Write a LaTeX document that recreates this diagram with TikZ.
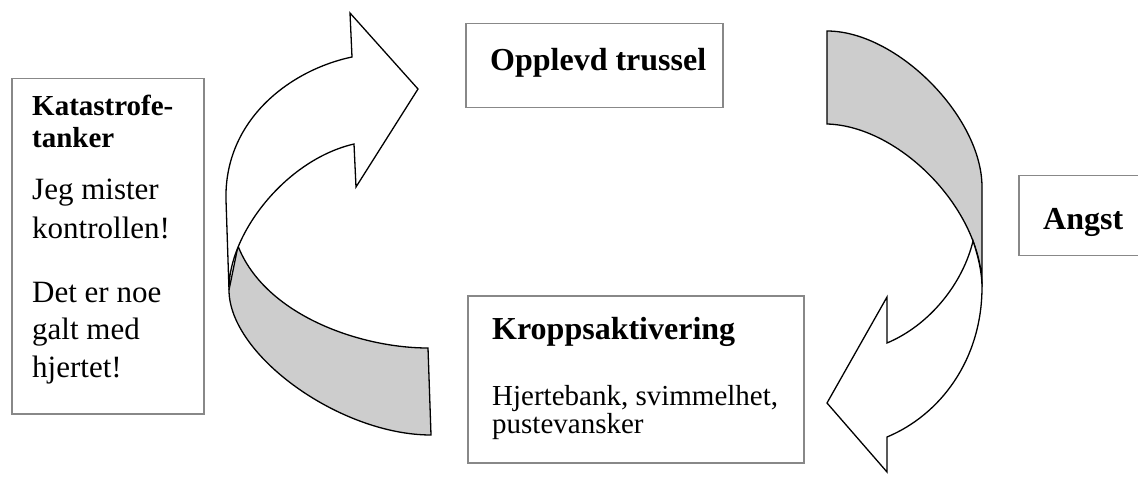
\documentclass[tikz,border=0pt]{standalone}
\usepackage{fontspec}
\setmainfont{Liberation Serif}
\definecolor{boxgray}{HTML}{888888}
\definecolor{bandgray}{HTML}{CDCDCD}
\begin{document}
\begin{tikzpicture}[x=1pt,y=-1pt,
  box/.style={draw=boxgray, line width=1.5pt, fill=white, inner sep=0pt, anchor=north west},
  txt/.style={anchor=base west, inner sep=0pt},
  hdA/.style={txt, font=\bfseries\fontsize{32}{36}\selectfont},
  hdB/.style={txt, font=\bfseries\fontsize{29}{31}\selectfont},
  bodyA/.style={txt, font=\fontsize{31}{37}\selectfont},
  bodyB/.style={txt, font=\fontsize{29}{28}\selectfont},
  back/.style={draw=black, line width=1.3pt, fill=bandgray, line join=miter},
  front/.style={draw=black, line width=1.3pt, fill=white, line join=miter}]
\clip (0,0) rectangle (1138,481);
\fill[white] (0,0) rectangle (1138,481);

% boxes
\node[box, minimum width=192pt, minimum height=335pt] (katbox) at (11,78) {};
\node[box, minimum width=257pt, minimum height=84pt] (truss) at (465,23) {};
\node[box, minimum width=336pt, minimum height=167pt] (kropp) at (467,295) {};
\node[box, minimum width=140pt, minimum height=80pt] (angst) at (1018,175) {};

% texts
\node[hdB] (k1) at (32,116) {Katastrofe-};
\node[hdB] (k2) at (32,148) {tanker};
\node[bodyA] (k3) at (32,200) {Jeg mister};
\node[bodyA] (k4) at (32,239) {kontrollen!};
\node[bodyA] (k5) at (32,302) {Det er noe};
\node[bodyA] (k6) at (32,339) {galt med};
\node[bodyA] (k7) at (32,377) {hjertet!};
\node[hdA] (t1) at (490,71) {Opplevd trussel};
\node[hdA] (a1) at (1043,230) {Angst};
\node[hdA] (r1) at (492,339) {Kroppsaktivering};
\node[bodyB] (r2) at (492,405) {Hjertebank, svimmelhet,};
\node[bodyB] (r3) at (492,433) {pustevansker};

% left curved arrow
\coordinate (LG) at (238,246);
\coordinate (LT1) at (428,348);
\coordinate (LT2) at (431,435);
\coordinate (L1) at (229,290);
\draw[back] (LG) .. controls (265,315) and (360,348) .. (LT1) -- (LT2)
  .. controls (340,435) and (229,355) .. (L1) -- cycle;
\draw[front] (L1) -- (226,200) .. controls (224,120) and (290,70) .. (352,57)
  -- (350,13) -- (418,89) -- (356,187) -- (354,144)
  .. controls (285,160) and (228,235) .. (L1) -- cycle;

% right curved arrow
\coordinate (RT1) at (827,31);
\coordinate (RT2) at (827,124);
\coordinate (R1) at (982,287);
\coordinate (RG) at (973,241);
\draw[back] (RT1) .. controls (897,31) and (982,117) .. (982,187) -- (R1)
  .. controls (982,210) and (900,126) .. (RT2) -- cycle;
\draw[front] (R1) .. controls (982,360) and (940,415) .. (887,437)
  -- (887,472) -- (827,403) -- (887,297) -- (887,343)
  .. controls (930,325) and (963,283) .. (RG)
  .. controls (978,256) and (982,272) .. (R1) -- cycle;
\end{tikzpicture}
\end{document}
